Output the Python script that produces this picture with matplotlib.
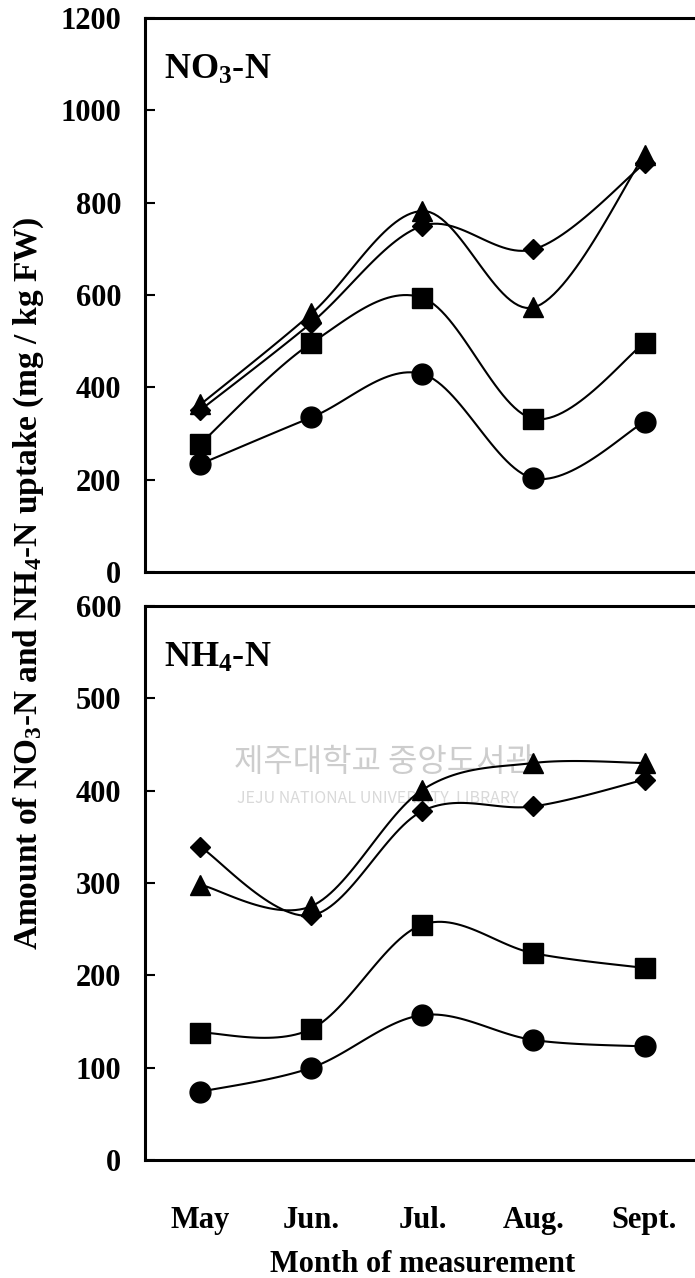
import numpy as np
import matplotlib
matplotlib.use("Agg")
import matplotlib.pyplot as plt

plt.rcParams["font.family"] = ["Liberation Serif", "DejaVu Serif"]
plt.rcParams["font.weight"] = "bold"
plt.rcParams["mathtext.default"] = "regular"

# -----------------------------------------------------------
# Data
# -----------------------------------------------------------
months = ["May", "Jun.", "Jul.", "Aug.", "Sept."]

no3_circle = [234, 335, 429, 203, 325]
no3_square = [278, 496, 594, 332, 496]
no3_diamond = [351, 540, 750, 699, 885]
no3_triangle = [363, 560, 782, 573, 903]

nh4_circle = [74, 100, 157, 130, 123]
nh4_square = [138, 142, 255, 224, 208]
nh4_diamond = [339, 265, 378, 383, 412]
nh4_triangle = [298, 275, 401, 430, 430]

markers = [("o", 15), ("s", 14), ("D", 10.5), ("^", 15)]


def smooth(x, y, n=30):
    """Excel-like smoothed line (cardinal Bezier through the points)."""
    x = np.asarray(x, float)
    y = np.asarray(y, float)
    px = np.concatenate([[x[0]], x, [x[-1]]])
    py = np.concatenate([[y[0]], y, [y[-1]]])
    xs, ys = [], []
    t = np.linspace(0, 1, n)
    for i in range(len(x) - 1):
        p0 = np.array([px[i + 1], py[i + 1]])
        p3 = np.array([px[i + 2], py[i + 2]])
        c1 = p0 + (np.array([px[i + 2], py[i + 2]]) - np.array([px[i], py[i]])) / 6
        c2 = p3 - (np.array([px[i + 3], py[i + 3]]) - np.array([px[i + 1], py[i + 1]])) / 6
        b = ((1 - t) ** 3)[:, None] * p0 + (3 * (1 - t) ** 2 * t)[:, None] * c1 \
            + (3 * (1 - t) * t ** 2)[:, None] * c2 + (t ** 3)[:, None] * p3
        xs.append(b[:, 0])
        ys.append(b[:, 1])
    return np.concatenate(xs), np.concatenate(ys)


fig = plt.figure(figsize=(6.95, 12.78), dpi=100)
ax1 = fig.add_axes([0.2086, 0.5524, 0.7986, 0.4335])
ax2 = fig.add_axes([0.2086, 0.0923, 0.7986, 0.4335])

x = np.arange(len(months))

panels = [
    (ax1, [no3_circle, no3_square, no3_diamond, no3_triangle], 1200, 200, "NO$_3$-N"),
    (ax2, [nh4_circle, nh4_square, nh4_diamond, nh4_triangle], 600, 100, "NH$_4$-N"),
]

for ax, series, ymax, step, label in panels:
    for vals, (m, ms) in zip(series, markers):
        sx, sy = smooth(x, vals)
        ax.plot(sx, sy, color="black", lw=1.5, zorder=2)
        ax.plot(x, vals, linestyle="none", marker=m, ms=ms, color="black", zorder=3)
    ax.set_xlim(-0.5, 4.5)
    ax.set_ylim(0, ymax)
    ax.set_yticks(np.arange(0, ymax + 1, step))
    ax.tick_params(axis="y", direction="in", length=7, width=1.5, pad=17, labelsize=22)
    ax.tick_params(axis="x", length=0)
    for s in ax.spines.values():
        s.set_linewidth(2.2)
    ax.text(0.035, 0.935, label, transform=ax.transAxes, fontsize=26,
            fontweight="bold", va="top", ha="left")

ax1.set_xticks([])
ax2.set_xticks(x)
ax2.set_xticklabels(months, fontsize=22, fontweight="bold")
ax2.tick_params(axis="x", pad=33)
ax2.set_xlabel("Month of measurement", fontsize=22, fontweight="bold", labelpad=11)

# watermark of the source library
ax2.text(0.16, 0.703, "제주대학교 중앙도서관", transform=ax2.transAxes, fontsize=23,
         color="#cdcdcd", family=["Noto Sans CJK KR"], fontweight="normal", zorder=1)
ax2.text(0.165, 0.645, "JEJU NATIONAL UNIVERSITY  LIBRARY", transform=ax2.transAxes,
         fontsize=11.5, color="#d9d9d9", family=["Noto Sans CJK KR"], fontweight="normal",
         zorder=1)

fig.text(0.042, 0.544, "Amount of NO$_3$-N and NH$_4$-N uptake (mg / kg FW)",
         rotation=90, fontsize=24, fontweight="bold", ha="center", va="center")

fig.savefig("out.png", dpi=100)
